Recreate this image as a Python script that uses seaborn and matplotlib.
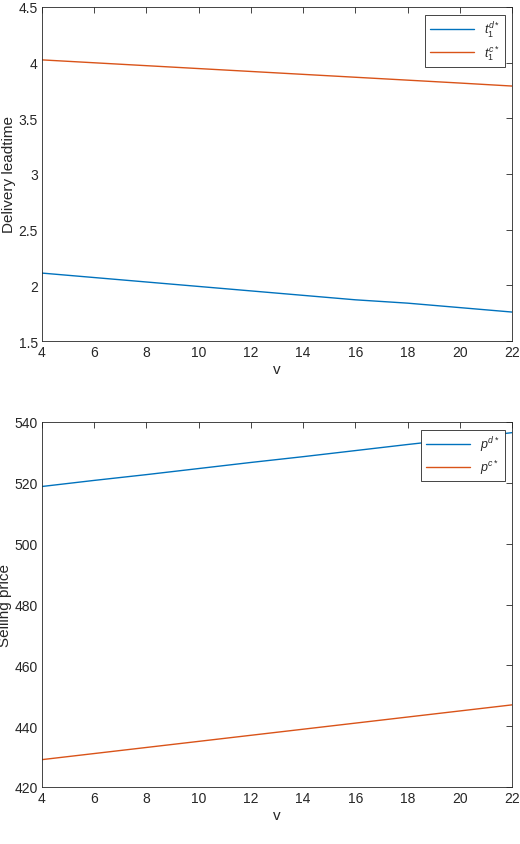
import matplotlib
matplotlib.use("Agg")
import matplotlib.pyplot as plt
import seaborn as sns
import pandas as pd

v = [4, 6, 8, 10, 12, 14, 16, 18, 20, 22]
t_d = [2.11, 2.07, 2.03, 1.99, 1.95, 1.91, 1.87, 1.84, 1.80, 1.76]
t_c = [4.025, 3.999, 3.973, 3.947, 3.921, 3.895, 3.869, 3.843, 3.817, 3.79]
p_d = [518.8, 520.8, 522.7, 524.7, 526.7, 528.6, 530.6, 532.6, 534.5, 536.5]
p_c = [429, 431, 433, 435, 437, 439, 441, 443, 445, 447]

sns.set_style("white")
plt.rcParams['font.family'] = ['Liberation Sans', 'DejaVu Sans']
plt.rcParams['mathtext.fontset'] = 'custom'
plt.rcParams['mathtext.it'] = 'Liberation Sans:italic'
plt.rcParams['mathtext.rm'] = 'Liberation Sans'

blue, orange = "#0072BD", "#D95319"
fig = plt.figure(figsize=(5.2, 8.45), dpi=100)
ax1 = fig.add_axes([42/520, 1-342/845, 470/520, 334/845])
ax2 = fig.add_axes([42/520, 1-788/845, 470/520, 365/845])

def style(ax, ylim, yticks, ylabel):
    ax.set_xlim(4, 22)
    ax.set_xticks(range(4, 23, 2))
    ax.set_ylim(*ylim)
    ax.set_yticks(yticks)
    ax.set_xlabel("v", fontsize=11, labelpad=2)
    ax.set_ylabel(ylabel, fontsize=11, labelpad=2)
    ax.tick_params(direction='in', top=True, right=True, labelsize=10, length=4, width=0.6, pad=3)
    for s in ax.spines.values():
        s.set_linewidth(0.6); s.set_color('#262626')
    leg = ax.legend(loc='upper right', fontsize=9, fancybox=False, edgecolor='#262626',
                    framealpha=1, handlelength=3.5, borderaxespad=0.6, labelspacing=0.3)
    leg.get_frame().set_linewidth(0.6)

df1 = pd.DataFrame({"v": v, "td": t_d, "tc": t_c})
sns.lineplot(data=df1, x="v", y="td", ax=ax1, color=blue, lw=1, label=r"$t_1^{d*}$")
sns.lineplot(data=df1, x="v", y="tc", ax=ax1, color=orange, lw=1, label=r"$t_1^{c*}$")
style(ax1, (1.5, 4.5), [1.5, 2, 2.5, 3, 3.5, 4, 4.5], "Delivery leadtime")
ax1.set_yticklabels(["1.5", "2", "2.5", "3", "3.5", "4", "4.5"])

df2 = pd.DataFrame({"v": v, "pd": p_d, "pc": p_c})
sns.lineplot(data=df2, x="v", y="pd", ax=ax2, color=blue, lw=1, label=r"$p^{d*}$")
sns.lineplot(data=df2, x="v", y="pc", ax=ax2, color=orange, lw=1, label=r"$p^{c*}$")
style(ax2, (420, 540), range(420, 541, 20), "Selling price")

fig.savefig("out.png", dpi=100)
